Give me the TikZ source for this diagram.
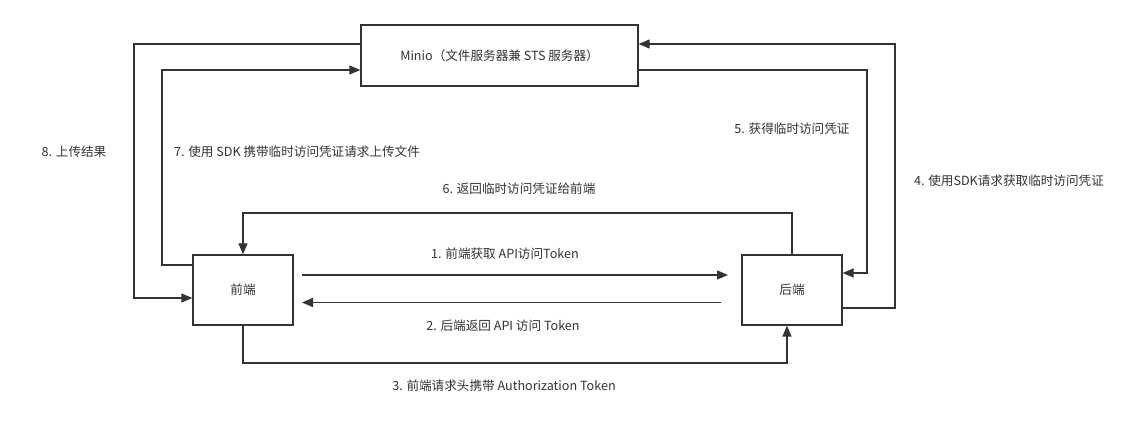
\documentclass[tikz,border=0pt]{standalone}
\usepackage{fontspec}
\setmainfont{Noto Sans CJK SC}
\usetikzlibrary{arrows.meta}
\definecolor{ln}{HTML}{333333}
\begin{document}
\begin{tikzpicture}[x=1pt,y=-1pt,
  box/.style={draw=ln, line width=1.3pt, inner sep=0, text=ln, font=\fontsize{12.6}{14}\selectfont},
  conn/.style={draw=ln, line width=1.3pt},
  arr/.style={conn, -{Triangle[length=11pt,width=9pt]}},
  lbl/.style={text=ln, font=\fontsize{12.6}{14}\selectfont, inner sep=0}]
\useasboundingbox (0,0) rectangle (1141,427);
\fill[white] (0,0) rectangle (1141,427);

\node[box, minimum width=277pt, minimum height=61pt] (minio) at (499.5,55.5) {Minio（文件服务器兼 STS 服务器）};
\node[box, minimum width=100pt, minimum height=70pt] (fe) at (243,290) {前端};
\node[box, minimum width=100pt, minimum height=70pt] (be) at (792,290) {后端};

\coordinate (a1s) at (302,275);
\coordinate (a1e) at (728,275);
\coordinate (a2s) at (721,302.5);
\coordinate (a2e) at (302,302.5);

% 1, 2
\draw[arr] (a1s) -- (a1e);
\draw[arr] (a2s) -- (a2e);
% 3
\draw[arr] (fe.south) -- (243,363) -- (787,363) -- (be.south -| 787,0);
% 4
\draw[arr] (be.east |- 0,308) -- (895,308) -- (895,44) -- (minio.east |- 0,44);
% 5
\draw[arr] (minio.east |- 0,70) -- (867,70) -- (867,273) -- (be.east |- 0,273);
% 6
\draw[arr] (be.north) -- (792,213) -- (243,213) -- (fe.north);
% 7
\draw[arr] (fe.west |- 0,265) -- (162,265) -- (162,70) -- (minio.west |- 0,70);
% 8
\draw[arr] (minio.west |- 0,44) -- (134,44) -- (134,298) -- (fe.west |- 0,298);

\node[lbl] (l8) at (74,152) {8. 上传结果};
\node[lbl] (l7) at (297,152) {7. 使用 SDK 携带临时访问凭证请求上传文件};
\node[lbl] (l5) at (792,129) {5. 获得临时访问凭证};
\node[lbl] (l4) at (1009,181) {4. 使用SDK请求获取临时访问凭证};
\node[lbl] (l6) at (519,189) {6. 返回临时访问凭证给前端};
\node[lbl] (l1) at (505,254) {1. 前端获取 API访问Token};
\node[lbl] (l2) at (503,326) {2. 后端返回 API 访问 Token};
\node[lbl] (l3) at (504,386) {3. 前端请求头携带 Authorization Token};
\end{tikzpicture}
\end{document}
